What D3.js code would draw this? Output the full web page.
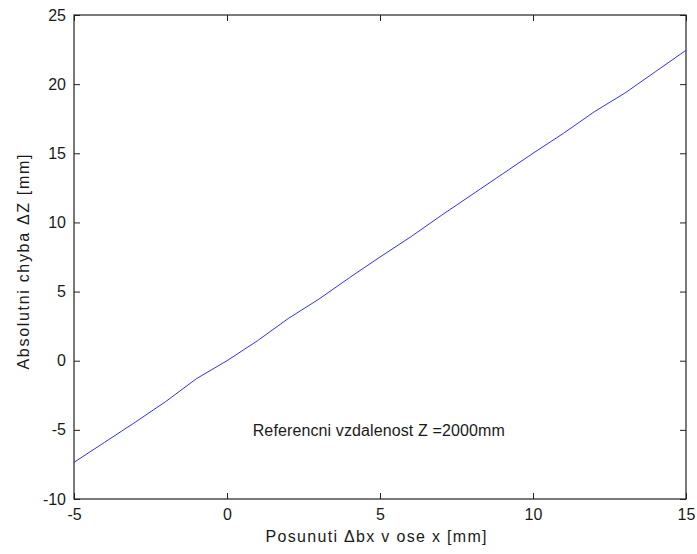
<!DOCTYPE html>
<html>
<head>
<meta charset="utf-8">
<script src="https://cdn.jsdelivr.net/npm/d3@7"></script>
<style>
  body { margin: 0; background: #fff; }
  text { font-family: "Liberation Sans", Arial, sans-serif; fill: #1a1a1a; }
</style>
</head>
<body>
<div id="chart"></div>
<script>
// posunuti (x) a absolutni chyba (y)
var shiftX = [-5, -4, -3, -2, -1, 0, 1, 2, 3, 4, 5, 6, 7, 8, 9, 10, 11, 12, 13, 14, 15];
var errorZ = [-7.35, -5.9, -4.45, -2.95, -1.3, 0, 1.45, 3.05, 4.45, 6.0, 7.5, 8.95,
              10.5, 12.0, 13.5, 15.0, 16.45, 18.0, 19.35, 20.9, 22.45];
var xTicks = [-5, 0, 5, 10, 15];
var yTicks = [-10, -5, 0, 5, 10, 15, 20, 25];
var note = "Referencni vzdalenost Z =2000mm";

function plot_func () {
    var margin = {top: 15, right: 11, bottom: 55, left: 74},
        width = 697 - margin.left - margin.right,
        height = 554 - margin.top - margin.bottom;

    var svg = d3.select("#chart").append("svg")
            .attr("width", width + margin.left + margin.right)
            .attr("height", height + margin.top + margin.bottom)
          .append("g")
            .attr("transform", "translate(" + margin.left + "," + margin.top + ")");

    var x = d3.scaleLinear().domain([-5, 15]).range([0, width]),
        y = d3.scaleLinear().domain([-10, 25]).range([height, 0]);

    var data = shiftX.map(function(d, i) { return {x: d, y: errorZ[i]}; });
    var fmt = function(d) { return String(d); };   // plain hyphen minus like matlab

    // matlab style box, ticks inward
    function styleAxis(g) {
        g.select(".domain").remove();
        g.selectAll("line").attr("stroke", "#222");
        g.selectAll("text").style("font-size", "16px")
          .style("font-family", "'Liberation Sans', Arial, sans-serif").attr("fill", "#1a1a1a");
    }

    svg.append("g").attr("transform", "translate(0," + height + ")")
        .call(d3.axisBottom(x).tickValues(xTicks).tickFormat(fmt).tickSizeInner(-6).tickSizeOuter(0).tickPadding(10))
        .call(styleAxis);
    svg.append("g")
        .call(d3.axisTop(x).tickValues(xTicks).tickSizeInner(-6).tickSizeOuter(0).tickFormat(""))
        .call(styleAxis);
    svg.append("g")
        .call(d3.axisLeft(y).tickValues(yTicks).tickFormat(fmt).tickSizeInner(-6).tickSizeOuter(0).tickPadding(8))
        .call(styleAxis);
    svg.append("g").attr("transform", "translate(" + width + ",0)")
        .call(d3.axisRight(y).tickValues(yTicks).tickSizeInner(-6).tickSizeOuter(0).tickFormat(""))
        .call(styleAxis);

    svg.append("rect")
        .attr("width", width).attr("height", height)
        .attr("fill", "none").attr("stroke", "#222").attr("stroke-width", 1.2);

    svg.append("path")
        .datum(data)
        .attr("fill", "none")
        .attr("stroke", "#3030ff")
        .attr("stroke-width", 1)
        .attr("d", d3.line().x(function(d) { return x(d.x); }).y(function(d) { return y(d.y); }));

    svg.append("text")
        .attr("x", x(0.84)).attr("y", y(-5.42))
        .attr("textLength", 252).attr("lengthAdjust", "spacing")
        .style("font-size", "16px")
        .text(note);

    svg.append("text")
        .attr("x", 302).attr("y", height + 43)
        .attr("text-anchor", "middle")
        .attr("textLength", 221).attr("lengthAdjust", "spacing")
        .style("font-size", "16px")
        .text("Posunuti \u0394bx v ose x [mm]");

    svg.append("text")
        .attr("transform", "translate(" + (-45) + "," + 247 + ") rotate(-90)")
        .attr("text-anchor", "middle")
        .attr("textLength", 215).attr("lengthAdjust", "spacing")
        .style("font-size", "16px")
        .text("Absolutni chyba \u0394Z [mm]");
}

plot_func ();
</script>
</body>
</html>
